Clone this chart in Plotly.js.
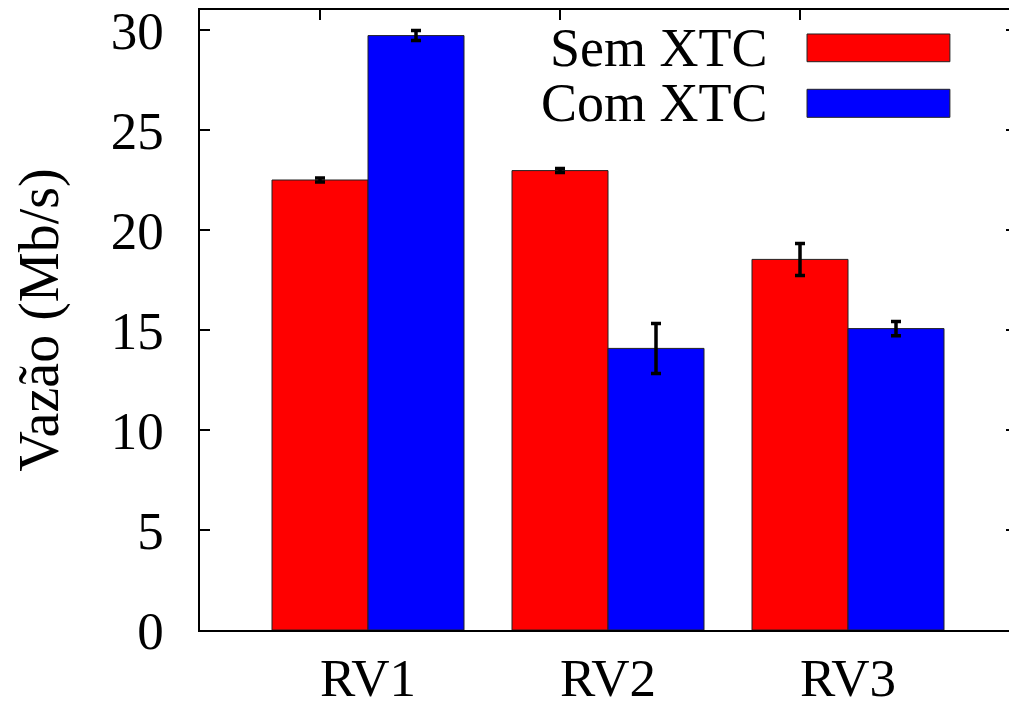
<!DOCTYPE html>
<html>
<head>
<meta charset="utf-8">
<script src="https://cdn.plot.ly/plotly-3.0.1.min.js"></script>
<style>
html,body{margin:0;padding:0;overflow:hidden;background:#fff;}
#chart{width:1017px;height:705px;}
</style>
</head>
<body>
<div id="chart"></div>
<script>
const categories = ["RV1", "RV2", "RV3"];
const seriesNames = ["Sem XTC", "Com XTC"];
const semXTC = [22.5, 22.97, 18.53];
const semXTCErr = [0.1, 0.1, 0.8];
const comXTC = [29.72, 14.08, 15.07];
const comXTCErr = [0.25, 1.25, 0.36];
const yTicks = [0, 5, 10, 15, 20, 25, 30];

const colors = ["#ff0000", "#0000ff"];
const FONT = "Liberation Serif";
const FS = 53;

function barTrace(name, vals, errs, color) {
  return {
    type: "bar",
    name: name,
    x: categories,
    y: vals,
    marker: {color: color, line: {color: "#222", width: 1}},
    error_y: {type: "data", array: errs, visible: true, color: "#000", thickness: 3.5, width: 5},
    showlegend: false
  };
}

const data = [
  barTrace(seriesNames[0], semXTC, semXTCErr, colors[0]),
  barTrace(seriesNames[1], comXTC, comXTCErr, colors[1])
];

// legend drawn gnuplot-style: text on the left, long sample box on the right
const legX0 = 0.7439, legX1 = 0.919, legTextX = 0.6985;
const legRows = [{y0: 0.9166, y1: 0.9613, yc: 0.9387}, {y0: 0.8269, y1: 0.8721, yc: 0.85}];
const shapes = [], annotations = [];
seriesNames.forEach((n, i) => {
  shapes.push({type: "rect", xref: "paper", yref: "paper", x0: legX0, x1: legX1,
    y0: legRows[i].y0, y1: legRows[i].y1, fillcolor: colors[i], line: {color: "#222", width: 1}});
  annotations.push({xref: "paper", yref: "paper", x: legTextX, y: legRows[i].yc,
    xanchor: "right", yanchor: "middle", text: n, showarrow: false,
    font: {family: FONT, size: FS + 1, color: "#000"}});
});

const layout = {
  width: 1017, height: 705,
  margin: {l: 200, r: 1, t: 10, b: 75},
  paper_bgcolor: "#fff", plot_bgcolor: "#fff",
  barmode: "group", bargap: 0.2, bargroupgap: 0,
  font: {family: FONT, size: FS, color: "#000"},
  xaxis: {
    type: "category", range: [-0.7, 2.7],
    showline: true, mirror: true, linecolor: "#000", linewidth: 1.5,
    ticks: "", showgrid: false, zeroline: false,
    tickfont: {family: FONT, size: FS, color: "#000"},
    ticklabelstandoff: 1
  },
  xaxis2: {
    overlaying: "x", side: "top", range: [-0.7, 2.7],
    tickmode: "array", tickvals: [-0.2, 0.8, 1.8],
    ticks: "inside", ticklen: 10, tickwidth: 1.5, tickcolor: "#000",
    showticklabels: false, showline: false, showgrid: false, zeroline: false
  },
  yaxis: {
    range: [0, 31], tickmode: "array", tickvals: yTicks,
    showline: true, mirror: "ticks", linecolor: "#000", linewidth: 1.5,
    ticks: "inside", ticklen: 10, tickwidth: 1.5, tickcolor: "#000",
    showgrid: false, zeroline: false,
    tickfont: {family: FONT, size: FS, color: "#000"},
    ticklabelstandoff: 24,
    title: {text: "Vazão (Mb/s)", font: {family: FONT, size: 56, color: "#000"}, standoff: 34}
  },
  shapes: shapes,
  annotations: annotations
};

// invisible trace so the top tick axis is drawn
data.push({type: "scatter", x: [0], y: [0], xaxis: "x2", mode: "markers",
  marker: {opacity: 0}, showlegend: false, hoverinfo: "skip"});

Plotly.newPlot("chart", data, layout, {displayModeBar: false, responsive: false});
</script>
</body>
</html>
